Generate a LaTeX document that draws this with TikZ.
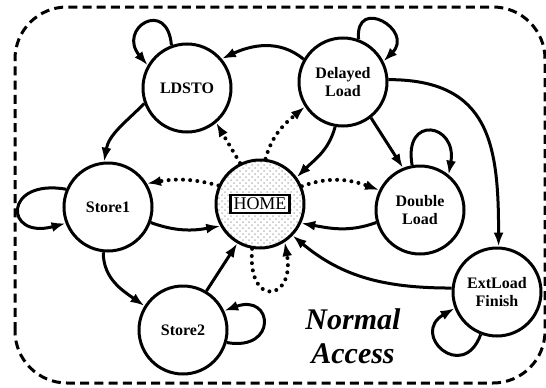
\documentclass[tikz,border=0pt]{standalone}
\usepackage{fontspec}
\setmainfont{Liberation Serif}
\usetikzlibrary{arrows.meta,patterns}

\begin{document}
\begin{tikzpicture}[
  x=0.5pt, y=0.5pt,
  font=\fontsize{8}{9}\selectfont\bfseries,
  >={Latex[length=7pt,width=5pt]},
  state/.style={draw, circle, line width=1.5pt, minimum size=44pt,
                inner sep=0pt, align=center},
  tr/.style={->, line width=1.5pt},
  back/.style={->, line width=2pt, dash pattern=on 0pt off 3.6pt, line cap=round},
  border/.style={line width=1.5pt, dash pattern=on 4.5pt off 2.6pt, rounded corners=26pt}
]
\useasboundingbox (0,0) rectangle (546,387);
\draw[border] (15,4) rectangle (545,380);

\node[state] (ldsto) at (187,299) {LDSTO};
\node[state] (delay) at (343,305) {Delayed\\Load};
\node[state] (st1)   at (108,180) {Store1};
\node[state, pattern=crosshatch dots, pattern color=black!25] (home) at (260,183) {};
\node[draw, line width=1.3pt, fill=white, inner sep=1.5pt,
      font=\fontsize{9}{9}\selectfont] (homebox) at (home) {HOME};
\node[state] (dbl)   at (420,177) {Double\\Load};
\node[state] (st2)   at (183,57)  {Store2};
\node[state] (ext)   at (497,95)  {ExtLoad\\Finish};
\node[font=\fontsize{15}{17}\selectfont\bfseries\itshape, align=center] (area) at (353,51) {Normal\\Access};

% self loops
\draw[tr] (ldsto.110) to[out=95, in=130, distance=24pt] (ldsto.150);
\draw[tr] (delay.70) to[out=95, in=45, distance=22pt] (delay.27);
\draw[tr] (dbl.100) to[out=100, in=80, distance=26pt] (dbl.51);
\draw[tr] (st1.157) to[out=170, in=195, distance=32pt] (st1.201);
\draw[tr] (st2.-16) to[out=-10, in=20, distance=26pt] (st2.25);
\draw[tr] (ext.249) to[out=250, in=210, distance=26pt] (ext.201);
\draw[back] (home.-100) to[out=-95, in=-80, distance=30pt] (home.-57);

% transitions
\draw[tr] (delay.150) to[out=140, in=25] (ldsto.40);
\draw[tr] (ldsto.200) to[out=225, in=80] (st1.95);
\draw[tr] (st1.-20) to[out=-20, in=190] (home.209);
\draw[tr] (st1.-96) to[out=-90, in=145] (st2.148);
\draw[tr] (st2.59) -- (home.-120);
\draw[tr] (delay.-100) to[out=-105, in=45] (home.36);
\draw[tr] (delay.-52) -- (dbl.112);
\draw[tr] (dbl.196) to[out=200, in=-10] (home.-25);
\draw[tr] (delay.3) to[out=0, in=90, looseness=1.3] (ext.88);
\draw[tr] (ext.175) to[out=180, in=-40] (home.-44);

% returns from HOME
\draw[back] (home.156) to[out=165, in=10] (st1.31);
\draw[back] (home.116) -- (ldsto.-50);
\draw[back] (home.83) to[out=75, in=220] (delay.213);
\draw[back] (home.23) to[out=20, in=160] (dbl.154);
\end{tikzpicture}
\end{document}
